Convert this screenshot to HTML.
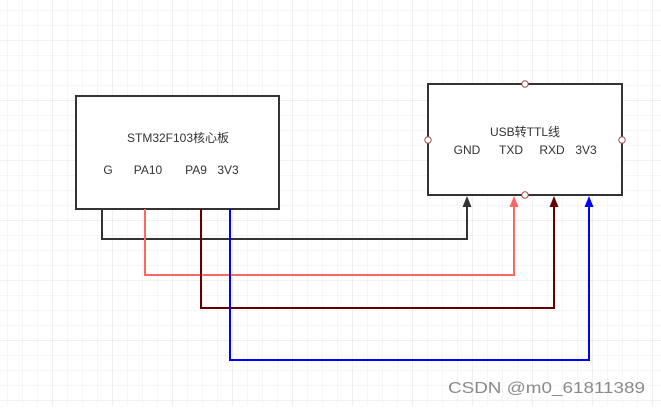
<!DOCTYPE html>
<html><head><meta charset="utf-8"><style>
body{margin:0;width:661px;height:406px;overflow:hidden;background:#fff;}
</style></head><body>
<svg width="661" height="406" xmlns="http://www.w3.org/2000/svg" font-family="Liberation Sans, Noto Sans CJK SC, sans-serif">
<defs>
<pattern id="g" x="7" y="10" width="15" height="15" patternUnits="userSpaceOnUse">
<path d="M0 0V15M0 0H15" stroke="#ececec" stroke-width="1" fill="none"/></pattern>
<pattern id="G" x="52" y="40" width="60" height="60" patternUnits="userSpaceOnUse">
<path d="M0 0V60M0 0H60" stroke="#e0e0e0" stroke-width="1" fill="none"/></pattern>
</defs>
<rect width="661" height="406" fill="url(#g)"/>
<rect width="661" height="406" fill="url(#G)"/>
<rect x="76" y="96" width="203" height="113" fill="#fff" stroke="#333" stroke-width="2"/>
<rect x="428" y="84" width="194" height="111" fill="#fff" stroke="#333" stroke-width="2"/>
<g font-size="12" fill="#333" text-anchor="middle">
<text x="178" y="142">STM32F103核心板</text>
<text x="108" y="174">G</text><text x="148" y="174">PA10</text><text x="196" y="174">PA9</text><text x="228" y="174">3V3</text>
<text x="525" y="136">USB转TTL线</text>
<text x="467" y="154">GND</text><text x="511" y="154">TXD</text><text x="552" y="154">RXD</text><text x="586" y="154">3V3</text>
</g>
<g fill="none" stroke-width="2">
<path d="M102 209V239H467V205" stroke="#333"/>
<path d="M145 209V275H514V205" stroke="#ff6666"/>
<path d="M201 209V308H554V205" stroke="#660000"/>
<path d="M230 209V360H589V205" stroke="#0000ff"/>
</g>
<path d="M467 196l-4.5 11h9z" fill="#333"/>
<path d="M514 196l-4.5 11h9z" fill="#ff6666"/>
<path d="M554 196l-4.5 11h9z" fill="#660000"/>
<path d="M589 196l-4.5 11h9z" fill="#0000ff"/>
<g fill="#fff" stroke="#a05050" stroke-width="1">
<circle cx="525" cy="84" r="3.2"/><circle cx="525" cy="195" r="3.2"/>
<circle cx="428" cy="140" r="3.2"/><circle cx="622" cy="140" r="3.2"/>
</g>
<text x="448" y="393" font-size="16" fill="#8a8a8a" textLength="197" lengthAdjust="spacingAndGlyphs">CSDN @m0_61811389</text>
</svg>
</body></html>
